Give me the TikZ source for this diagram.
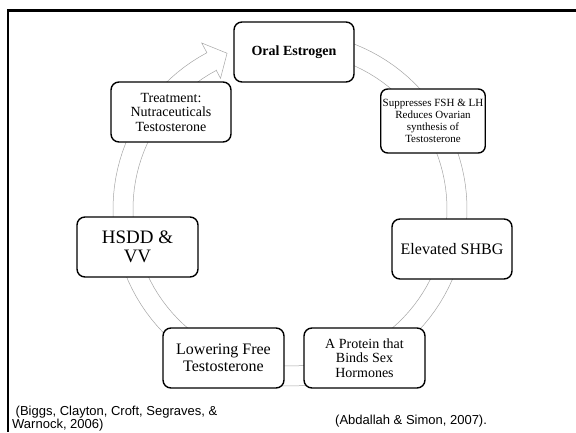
\documentclass[tikz,border=0pt]{standalone}
\usepackage{fontspec}
\setmainfont{Liberation Serif}
\newfontfamily\arialfont{Liberation Sans}
\tikzset{
  box/.style={draw=black, line width=1.4pt, rounded corners=8pt, fill=white,
    align=center, inner sep=2pt, font=\rmfamily},
  ringline/.style={draw=black!35, line width=0.5pt, fill=white},
  cite/.style={font=\arialfont\fontsize{13}{15}\selectfont, inner sep=0pt, anchor=base west},
}
\begin{document}
\begin{tikzpicture}[x=1pt,y=-1pt]
\useasboundingbox (0,0) rectangle (576,432);
% frame
\draw[line width=2.7pt] (576,10.5) -- (8,10.5) -- (8,432);
% ring with arrowhead
\def\cx{290}\def\cy{209}
\draw[ringline]
  ({\cx+157*cos(118)},{\cy-157*sin(118)})
  -- ({\cx+148*cos(118)},{\cy-148*sin(118)})
  -- ({\cx+168*cos(112)},{\cy-168*sin(112)})
  -- ({\cx+188*cos(118)},{\cy-188*sin(118)})
  -- plot[domain=118:460, samples=120] ({\cx+177*cos(\x)},{\cy-177*sin(\x)})
  -- plot[domain=460:118, samples=120] ({\cx+157*cos(\x)},{\cy-157*sin(\x)})
  -- cycle;
% boxes
\node[box, minimum width=120pt, minimum height=60pt, font=\bfseries\fontsize{14}{15}\selectfont]
  (oral) at (294,52) {Oral Estrogen};
\node[box, minimum width=94pt, minimum height=64pt, rounded corners=7pt, font=\fontsize{11}{11.8}\selectfont]
  (supp) at (433,121) {Suppresses FSH \& LH\\Reduces Ovarian\\synthesis of\\Testosterone};
\node[box, minimum width=120pt, minimum height=60pt, font=\fontsize{16}{16.5}\selectfont]
  (shbg) at (452,249) {Elevated SHBG};
\node[box, minimum width=121pt, minimum height=60pt, font=\fontsize{14}{14.5}\selectfont]
  (prot) at (364.5,358) {A Protein that\\Binds Sex\\Hormones};
\node[box, minimum width=121pt, minimum height=60pt, font=\fontsize{16}{16.5}\selectfont]
  (lower) at (223.5,358) {Lowering Free\\Testosterone};
\node[box, minimum width=121pt, minimum height=60pt, font=\fontsize{19}{19.5}\selectfont]
  (hsdd) at (137.5,247) {HSDD \&\\VV};
\node[box, minimum width=120pt, minimum height=60pt, font=\fontsize{14}{14.5}\selectfont]
  (treat) at (171,112) {Treatment:\\Nutraceuticals\\Testosterone};
% citations
\node[cite] (citeA) at (15.5,415) {(Biggs, Clayton, Croft, Segraves, \&};
\node[cite] (citeB) at (12,428.5) {Warnock, 2006)};
\node[cite] (citeC) at (335,424) {(Abdallah \& Simon, 2007).};
\end{tikzpicture}
\end{document}
